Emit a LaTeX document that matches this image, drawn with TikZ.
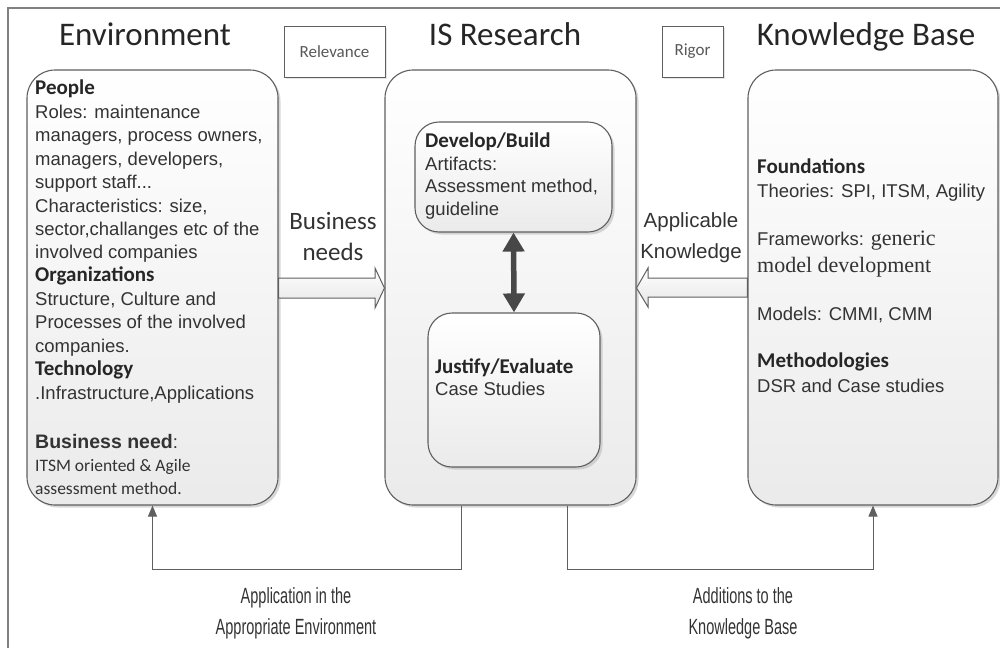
\documentclass[tikz,border=0pt]{standalone}
\usepackage{fontspec}
\setmainfont{Liberation Sans}
\newfontfamily\calfont{Carlito}
\newfontfamily\narrowfont{Liberation Sans}[FakeStretch=0.66]
\newfontfamily\timesfont{Liberation Serif}
\usetikzlibrary{shadows,arrows.meta}
\definecolor{ink}{HTML}{333333}
\definecolor{edge}{HTML}{5F5F5F}
\newcommand\ftxt{\fontsize{18.5}{22}\selectfont}
\newcommand\fhead{\calfont\bfseries\fontsize{21}{24}\selectfont}
\begin{document}
\begin{tikzpicture}[x=1pt,y=-1pt,
  panel/.style={draw=edge,line width=1.1pt,rounded corners=28pt,
    top color=white,bottom color=black!8,
    drop shadow={shadow xshift=2.5pt,shadow yshift=-2.5pt,fill=black!30},
    inner sep=0pt},
  subpanel/.style={panel,rounded corners=24pt},
  tagbox/.style={draw=edge,line width=1pt,fill=white,inner sep=0pt,
    drop shadow={shadow xshift=2pt,shadow yshift=-2pt,fill=black!20},
    font=\calfont\fontsize{17}{20}\selectfont,text=black!65},
  ttl/.style={anchor=base,inner sep=0pt,text=black!85,font=\calfont\fontsize{33}{36}\selectfont},
  ln/.style={anchor=base west,inner sep=0pt,text=ink,font=\ftxt},
  hd/.style={ln,font=\fhead,text=black!85},
  lbl/.style={anchor=base,inner sep=0pt,text=ink},
  foot/.style={lbl,font=\narrowfont\fontsize{22}{26}\selectfont},
  blockarrow/.style={draw=edge,line width=1pt,top color=white,bottom color=black!10},
  conn/.style={draw=edge,line width=1pt},
  frame/.style={draw=black!50,line width=1.2pt}]
\useasboundingbox (0,0) rectangle (1000,648);

% outer frame (top and left edges)
\draw[frame] (8,648) -- (8,8) -- (1000,8);

% column titles and tags
\node[ttl] (tEnv) at (145,45) {Environment};
\node[ttl] (tIS) at (505,45) {IS Research};
\node[ttl] (tKB) at (866,45) {Knowledge Base};
\node[tagbox,minimum width=101pt,minimum height=51pt] (rel) at (334.5,51.5) {Relevance};
\node[tagbox,minimum width=61pt,minimum height=51pt] (rig) at (692.5,51.5) {Rigor};

% the three main panels
\node[panel,minimum width=251pt,minimum height=435pt] (env) at (152.5,287.5) {};
\node[panel,minimum width=251pt,minimum height=435pt] (is) at (510.5,287.5) {};
\node[panel,minimum width=250pt,minimum height=435pt] (kb) at (873,287.5) {};

% inner panels of IS Research
\node[subpanel,minimum width=197pt,minimum height=110pt] (dev) at (513.5,177) {};
\node[subpanel,minimum width=172pt,minimum height=154pt] (jus) at (514,390) {};
\draw[draw=black!72,line width=5.5pt,
  {Triangle[length=19pt,width=21pt]}-{Triangle[length=19pt,width=21pt]}]
  (dev.south) -- (jus.north);

% Environment text
\node[hd] (e1) at (35,94) {People};
\node[ln] (e2) at (35,118) {Roles: maintenance};
\node[ln] (e3) at (35,141) {managers, process owners,};
\node[ln] (e4) at (35,165) {managers, developers,};
\node[ln] (e5) at (35,188) {support staff...};
\node[ln] (e6) at (35,212) {Characteristics: size,};
\node[ln] (e7) at (35,235) {sector,challanges etc of the};
\node[ln] (e8) at (35,258) {involved companies};
\node[hd] (e9) at (35,281) {Organizations};
\node[ln] (e10) at (35,305) {Structure, Culture and};
\node[ln] (e11) at (35,328) {Processes of the involved};
\node[ln] (e12) at (35,352) {companies.};
\node[hd] (e13) at (35,375) {Technology};
\node[ln] (e14) at (35,399) {.Infrastructure,Applications};
\node[ln] (e15) at (35,448) {{\bfseries\fontsize{19.5}{22}\selectfont Business need}:};
\node[ln,font=\calfont\fontsize{17.5}{20}\selectfont] (e16) at (35,471) {ITSM oriented \& Agile};
\node[ln,font=\calfont\fontsize{17.5}{20}\selectfont] (e17) at (35,494) {assessment method.};

% IS Research text
\node[hd] (d1) at (425,147) {Develop/Build};
\node[ln] (d2) at (425,170) {Artifacts:};
\node[ln] (d3) at (425,192) {Assessment method,};
\node[ln] (d4) at (425,215) {guideline};
\node[hd] (j1) at (435,373) {Justify/Evaluate};
\node[ln] (j2) at (435,395) {Case Studies};

% Knowledge Base text
\node[hd] (k1) at (757,173) {Foundations};
\node[ln] (k2) at (757,197) {Theories: SPI, ITSM, Agility};
\node[ln] (k3) at (757,245) {Frameworks: {\timesfont\fontsize{22}{24}\selectfont generic}};
\node[ln,font=\timesfont\fontsize{22}{24}\selectfont] (k4) at (757,272) {model development};
\node[ln] (k5) at (757,320) {Models: CMMI, CMM};
\node[hd] (k6) at (757,367) {Methodologies};
\node[ln] (k7) at (757,392) {DSR and Case studies};

% relevance and rigor flows
\draw[blockarrow] (env.east |- 0,278) -- (375,278) -- (375,268) -- (is.west |- 0,288)
  -- (375,308) -- (375,298) -- (env.east |- 0,298) -- cycle;
\draw[blockarrow] (kb.west |- 0,278) -- (648,278) -- (648,268) -- (is.east |- 0,288)
  -- (648,307) -- (648,297) -- (kb.west |- 0,297) -- cycle;
\node[lbl,font=\calfont\fontsize{25}{28}\selectfont] (bn1) at (333,229) {Business};
\node[lbl,font=\calfont\fontsize{25}{28}\selectfont] (bn2) at (333,260) {needs};
\node[lbl,font=\fontsize{20.5}{24}\selectfont] (ak1) at (691,227) {Applicable};
\node[lbl,font=\fontsize{20.5}{24}\selectfont] (ak2) at (691,258) {Knowledge};

% feedback connectors
\draw[conn,-{Triangle[length=11pt,width=9pt]}] ([xshift=-49.5pt]is.south) -- ++(0,64) -| (env.south);
\draw[conn,-{Triangle[length=11pt,width=9pt]}] ([xshift=56.5pt]is.south) -- ++(0,64) -| (kb.south);
\node[foot] (ap1) at (296,603) {Application in the};
\node[foot] (ap2) at (296,634) {Appropriate Environment};
\node[foot] (ad1) at (743,603) {Additions to the};
\node[foot] (ad2) at (743,634) {Knowledge Base};
\end{tikzpicture}
\end{document}
